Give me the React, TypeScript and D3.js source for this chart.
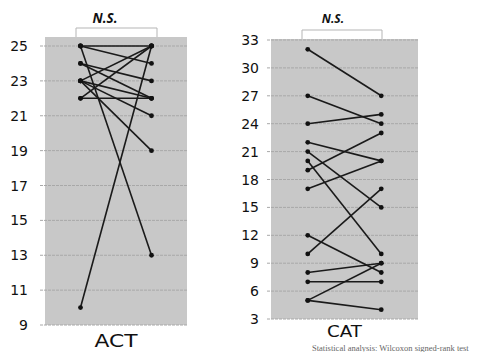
import * as d3 from "d3";
import * as React from "react";

// ACT: paired scores (before -> after)
const actBefore = [25, 25, 25, 24, 24, 23, 23, 23, 23, 22, 22, 10];
const actAfter = [25, 24, 13, 23, 22, 25, 22, 21, 19, 25, 22, 25];
const actTicks = [9, 11, 13, 15, 17, 19, 21, 23, 25];

// CAT: paired scores (before -> after)
const catBefore = [32, 27, 24, 22, 21, 20, 19, 17, 12, 10, 8, 7, 5, 5];
const catAfter = [27, 24, 25, 20, 15, 10, 23, 20, 8, 17, 9, 7, 9, 4];
const catTicks = [3, 6, 9, 12, 15, 18, 21, 24, 27, 30, 33];

const phases = ["before", "after"];

interface PanelProps {
  before: number[];
  after: number[];
  ticks: number[];
  yDomain: [number, number];
  yRange: [number, number];
  boxTop: number;
  xRange: [number, number];
  labelX: number;
  gridX0: number;
  label: string;
  labelY: number;
  labelSize: number;
  labelWidth: number;
  nsX: number;
  nsSize: number;
  bracket: [number, number];
}

function Panel(p: PanelProps) {
  const y = d3.scaleLinear(p.yDomain, p.yRange);
  const x = d3.scalePoint(phases, p.xRange).padding(0.5);
  const [x0, x1] = p.xRange;
  const line = d3
    .line<[string, number]>()
    .x((d) => x(d[0]) ?? 0)
    .y((d) => y(d[1]));
  const bottom = y(p.yDomain[0]);

  return (
    <g>
      <rect x={x0} y={p.boxTop} width={x1 - x0} height={bottom - p.boxTop} fill="#c8c8c8" />
      {p.ticks.map((t) => (
        <g key={t}>
          <line
            x1={p.gridX0}
            x2={x1}
            y1={y(t)}
            y2={y(t)}
            stroke="#a8a8a8"
            strokeWidth={1}
            strokeDasharray="3,1"
          />
          <text
            x={p.labelX}
            y={y(t)}
            dy="0.36em"
            textAnchor="end"
            fontFamily="DejaVu Sans"
            fontSize={14}
            fill="#111"
          >
            {t}
          </text>
        </g>
      ))}
      {p.before.map((b, i) => (
        <path
          key={i}
          d={line([["before", b], ["after", p.after[i]]]) ?? ""}
          fill="none"
          stroke="#1a1a1a"
          strokeWidth={1.6}
        />
      ))}
      {p.before.map((b, i) => (
        <g key={"pt" + i}>
          <circle cx={x("before")} cy={y(b)} r={2.4} fill="#111" />
          <circle cx={x("after")} cy={y(p.after[i])} r={2.4} fill="#111" />
        </g>
      ))}
      <path
        d={`M${p.bracket[0]},${p.boxTop}V${p.boxTop - 9}H${p.bracket[1]}V${p.boxTop}`}
        fill="none"
        stroke="#b5b5b5"
        strokeWidth={1}
      />
      <text
        x={p.nsX}
        y={23}
        textAnchor="middle"
        fontFamily="Open Sans"
        fontStyle="italic"
        fontWeight="bold"
        fontSize={p.nsSize}
        fill="#111"
      >
        N.S.
      </text>
      <text
        x={(x0 + x1) / 2}
        y={p.labelY}
        textAnchor="middle"
        fontFamily="DejaVu Sans"
        fontSize={p.labelSize}
        textLength={p.labelWidth}
        lengthAdjust="spacingAndGlyphs"
        fill="#111"
      >
        {p.label}
      </text>
    </g>
  );
}

export default function App() {
  const width = 483;
  const height = 352;
  return (
    <svg
      width={width}
      height={height}
      viewBox={`0 0 ${width} ${height}`}
      style={{ position: "absolute", left: 0, top: 0, background: "#fff" }}
    >
      <Panel
        before={actBefore}
        after={actAfter}
        ticks={actTicks}
        yDomain={[9, 25]}
        yRange={[325, 46]}
        boxTop={37}
        xRange={[45, 187]}
        labelX={28}
        gridX0={40}
        label="ACT"
        labelY={347}
        labelSize={17}
        labelWidth={43}
        nsX={105}
        nsSize={13.5}
        bracket={[76, 157]}
      />
      <Panel
        before={catBefore}
        after={catAfter}
        ticks={catTicks}
        yDomain={[3, 33]}
        yRange={[319, 40]}
        boxTop={39}
        xRange={[271, 418]}
        labelX={259}
        gridX0={267}
        label="CAT"
        labelY={337}
        labelSize={15}
        labelWidth={35}
        nsX={333}
        nsSize={12}
        bracket={[302, 382]}
      />
      <text x={312} y={351} fontFamily="Liberation Serif" fontSize={8.5} fill="#666">
        Statistical analysis: Wilcoxon signed-rank test
      </text>
    </svg>
  );
}
